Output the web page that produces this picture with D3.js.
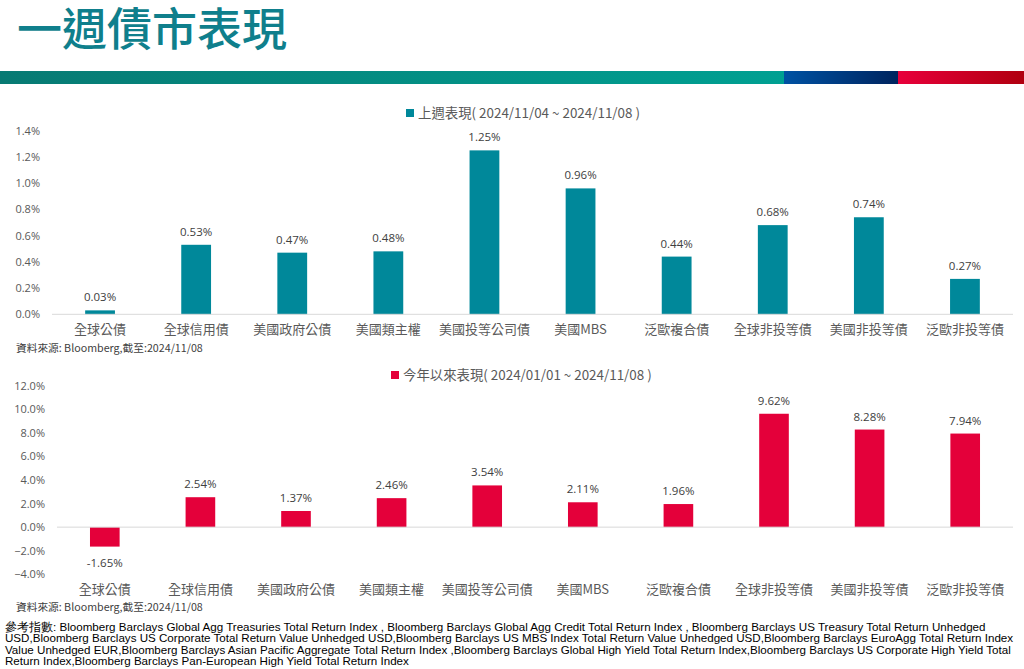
<!DOCTYPE html>
<html><head><meta charset="utf-8">
<script src="https://cdn.jsdelivr.net/npm/d3@7"></script>
<style>
html,body{margin:0;padding:0;background:#fff;}
svg{display:block;}
</style></head>
<body>
<svg id="c" width="1024" height="669"></svg>
<script>
const categories = ["全球公債","全球信用債","美國政府公債","美國類主權","美國投等公司債","美國MBS","泛歐複合債","全球非投等債","美國非投等債","泛歐非投等債"];
const weeklyValues = [0.03,0.53,0.47,0.48,1.25,0.96,0.44,0.68,0.74,0.27];
const ytdValues = [-1.65,2.54,1.37,2.46,3.54,2.11,1.96,9.62,8.28,7.94];
const weeklyTicks = [0,0.2,0.4,0.6,0.8,1.0,1.2,1.4];
const ytdTicks = [-4,-2,0,2,4,6,8,10,12];
const weeklyLegend = "上週表現( 2024/11/04 ~ 2024/11/08 )";
const ytdLegend = "今年以來表現( 2024/01/01 ~ 2024/11/08 )";
const sourceNote = "資料來源: Bloomberg,截至:2024/11/08";
const titleText = "一週債市表現";
const footerLines = [
"參考指數: Bloomberg Barclays Global Agg Treasuries Total Return Index , Bloomberg Barclays Global Agg Credit Total Return Index , Bloomberg Barclays US Treasury Total Return Unhedged",
"USD,Bloomberg Barclays US Corporate Total Return Value Unhedged USD,Bloomberg Barclays US MBS Index Total Return Value Unhedged USD,Bloomberg Barclays EuroAgg Total Return Index",
"Value Unhedged EUR,Bloomberg Barclays Asian Pacific Aggregate Total Return Index ,Bloomberg Barclays Global High Yield Total Return Index,Bloomberg Barclays US Corporate High Yield Total",
"Return Index,Bloomberg Barclays Pan-European High Yield Total Return Index"
];

const svg = d3.select("#c");
const CJK = "'Noto Sans CJK TC','Noto Sans CJK SC',sans-serif";
const LAT = "'Open Sans','Noto Sans','Noto Sans CJK TC',sans-serif";

// title
svg.append("text").attr("x",17).attr("y",46).text(titleText)
  .attr("font-family",CJK).attr("font-size",45).attr("font-weight",500).attr("fill","#0f7f8c");

// gradient bar
const defs = svg.append("defs");
function grad(id, c1, c2){
  const g = defs.append("linearGradient").attr("id",id).attr("x1","0%").attr("x2","100%");
  g.append("stop").attr("offset","0%").attr("stop-color",c1);
  g.append("stop").attr("offset","100%").attr("stop-color",c2);
}
grad("gT","#077a73","#00a092");
grad("gB","#0052a3","#00245e");
grad("gR","#e8003b","#b0000f");
svg.append("rect").attr("x",0).attr("y",71).attr("width",784).attr("height",13).attr("fill","url(#gT)");
svg.append("rect").attr("x",784).attr("y",71).attr("width",114).attr("height",13).attr("fill","url(#gB)");
svg.append("rect").attr("x",898).attr("y",71).attr("width",126).attr("height",13).attr("fill","url(#gR)");

function drawChart(cfg){
  const x = d3.scaleBand().domain(categories).range([cfg.x0, cfg.x1]).paddingInner(0.69).paddingOuter(0.345);
  const y = d3.scaleLinear().domain(cfg.domain).range([cfg.yBottom, cfg.yTop]);
  const g = svg.append("g");
  const yAxis = d3.axisLeft(y).tickValues(cfg.ticks).tickSize(0).tickPadding(0)
    .tickFormat(d => d3.format(cfg.fmt)(d) + "%");
  const ya = g.append("g").attr("transform",`translate(${cfg.labelX},0)`).call(yAxis);
  ya.select(".domain").remove();
  ya.selectAll("text").attr("font-family",LAT).attr("font-size",11).attr("fill","#595959");
  g.selectAll("rect.bar").data(cfg.values).join("rect")
    .attr("x",(d,i)=>x(categories[i]))
    .attr("width",x.bandwidth())
    .attr("y",d=>y(Math.max(0,d)))
    .attr("height",d=>Math.abs(y(d)-y(0)))
    .attr("fill",cfg.color);
  g.append("line").attr("x1",cfg.x0).attr("x2",cfg.x1).attr("y1",y(0)).attr("y2",y(0))
    .attr("stroke","#d9d9d9").attr("stroke-width",1);
  g.selectAll("text.val").data(cfg.values).join("text")
    .attr("x",(d,i)=>x(categories[i])+x.bandwidth()/2)
    .attr("y",d=> d>=0 ? y(d)-9 : y(d)+20)
    .attr("text-anchor","middle")
    .attr("font-family",LAT).attr("font-size",11.5).attr("fill","#404040")
    .text(d=>d.toFixed(2)+"%");
  const xAxis = d3.axisBottom(x).tickSize(0).tickPadding(0);
  const xa = g.append("g").attr("transform",`translate(0,${cfg.catY})`).call(xAxis);
  xa.select(".domain").remove();
  xa.selectAll("text").attr("font-family",CJK).attr("font-size",13).attr("fill","#595959").attr("dy","0");
  g.append("rect").attr("x",cfg.legX).attr("y",cfg.legY-4).attr("width",8).attr("height",8).attr("fill",cfg.color);
  g.append("text").attr("x",cfg.legX+12).attr("y",cfg.legY+5).text(cfg.legend)
    .attr("font-family",CJK).attr("font-size",13.4).attr("fill","#595959");
  g.append("text").attr("x",16).attr("y",cfg.srcY).text(sourceNote)
    .attr("font-family",CJK).attr("font-size",10.7).attr("fill","#404040");
}

drawChart({values:weeklyValues, ticks:weeklyTicks, domain:[0,1.4], fmt:".1f",
  x0:52, x1:1013, yBottom:314.3, yTop:130.7, labelX:40, color:"#00889a",
  catY:334, legX:406, legY:113, legend:weeklyLegend, srcY:352});
drawChart({values:ytdValues, ticks:ytdTicks, domain:[-4,12], fmt:".1f",
  x0:57, x1:1013, yBottom:574.3, yTop:385.7, labelX:45, color:"#e4003a",
  catY:594, legX:391, legY:375, legend:ytdLegend, srcY:611});

svg.append("g").selectAll("text").data(footerLines).join("text")
  .attr("x",5).attr("y",(d,i)=>631+i*11.3)
  .attr("font-family","'Liberation Sans',Arial,sans-serif").attr("font-size",11.6).attr("fill","#000")
  .text(d=>d);
</script>
</body></html>
